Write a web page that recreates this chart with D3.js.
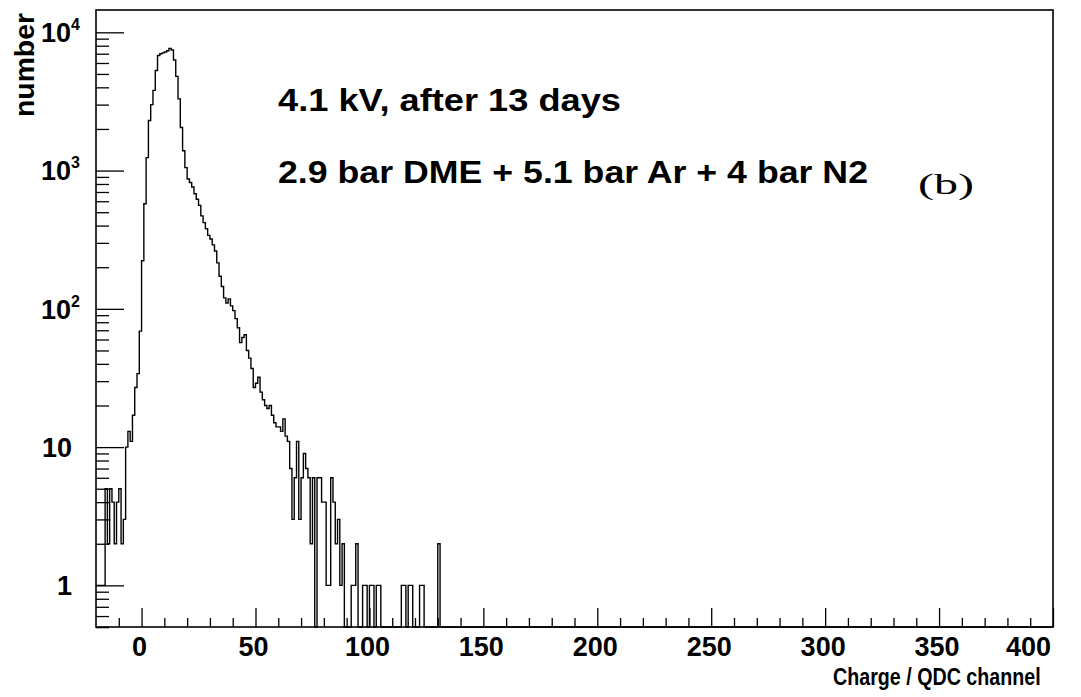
<!DOCTYPE html>
<html><head><meta charset="utf-8">
<script src="https://cdn.jsdelivr.net/npm/d3@7"></script>
<style>
body{margin:0;background:#fff}
text{font-family:"Liberation Sans",Arial,Helvetica,sans-serif;font-weight:bold;fill:#000}
</style>
</head><body><svg id="c" width="1081" height="697"></svg>
<script>
// ---- data ----
const binStart = -20;       // left edge of first bin (QDC channel)
const binWidth = 1;
const counts = [
  1,1,1,1,5,2,5,4,2,4,            // -20 .. -11
  5,2,3,10,13,11,17,27,34,69,      // -10 .. -1
  223,575,1240,2300,3000,3800,5300,6800,7000,7100,   // 0 .. 9
  7200,7350,7650,7450,6300,4800,3300,2050,1390,1050, // 10 .. 19
  870,820,760,680,620,560,470,420,380,340,           // 20 .. 29
  320,290,262,215,172,145,120,110,118,105,           // 30 .. 39
  97,85,73,57,62,65,50,44,37,27,                     // 40 .. 49
  29,32,25,22,20,19,20,17,15,14,                     // 50 .. 59
  14,13,16,12,11,7,3,6,11,3,                         // 60 .. 69
  6,9,7,6,2,6,0,6,6,4,                               // 70 .. 79
  4,1,1,6,4,2,3,1,2,0,                               // 80 .. 89
  0,0,1,1,2,0,0,1,1,0,                               // 90 .. 99
  1,1,0,1,1,0,0,0,0,0,                               // 100 .. 109
  0,0,0,0,1,1,0,1,1,0,                               // 110 .. 119
  0,0,1,1,0,0,0,0,0,0,                               // 120 .. 129
  2,0,0,0,0                                          // 130 .. 134
];
const xDomain = [-20, 400];
const yDomain = [0.5, 14500];
const xMajorTicks = [0, 50, 100, 150, 200, 250, 300, 350, 400];
const xMajorLabels = ["0","50","100","150","200","250","300","350","400"];
const yMajorTicks = [1, 10, 100, 1000, 10000];
const yMajorLabels = [["1",""],["10",""],["10","2"],["10","3"],["10","4"]];
const yTitle = "number";
const xTitle = "Charge / QDC channel";
const line1 = "4.1 kV, after 13 days";
const line2 = "2.9 bar DME + 5.1 bar Ar + 4 bar N2";
const panelTag = "(b)";

// ---- layout ----
const L = 96, R = 1053, T = 10, B = 627;
const svg = d3.select("#c");
const x = d3.scaleLinear().domain(xDomain).range([L, R]);
const y = d3.scaleLog().domain(yDomain).range([B, T]).clamp(true);

// histogram as step line
const pts = counts.map((c, i) => [binStart + i * binWidth, c]);
pts.push([xDomain[1], 0]);
const lineGen = d3.line()
  .x(d => x(d[0]))
  .y(d => y(Math.max(d[1], yDomain[0])))
  .curve(d3.curveStepAfter);
svg.append("path").attr("d", lineGen(pts))
  .attr("fill", "none").attr("stroke", "#000").attr("stroke-width", 1.4);

// minor tick values
const yMinor = [];
for (let k = -1; k <= 4; k++) for (let m = 2; m <= 9; m++) {
  const v = m * Math.pow(10, k);
  if (v >= yDomain[0] && v <= yDomain[1]) yMinor.push(v);
}
yMinor.push(0.5);
const xMinor = d3.range(-10, 401, 10).filter(v => v % 50 !== 0);

// y axes (ticks inside, pointing right)
svg.append("g").attr("transform", `translate(${L},0)`)
  .call(d3.axisLeft(y).tickValues(yMinor).tickSizeInner(-13).tickSizeOuter(0).tickFormat(""));
svg.append("g").attr("transform", `translate(${L},0)`)
  .call(d3.axisLeft(y).tickValues(yMajorTicks).tickSizeInner(-28).tickSizeOuter(0).tickFormat(""));
// x axes (ticks inside, pointing up)
svg.append("g").attr("transform", `translate(0,${B})`)
  .call(d3.axisBottom(x).tickValues(xMinor).tickSizeInner(-9).tickSizeOuter(0).tickFormat(""));
svg.append("g").attr("transform", `translate(0,${B})`)
  .call(d3.axisBottom(x).tickValues(xMajorTicks).tickSizeInner(-19).tickSizeOuter(0).tickFormat(""));
svg.selectAll(".domain").remove();
svg.selectAll(".tick line").attr("stroke", "#000").attr("stroke-width", 1.3);

// frame
svg.append("rect").attr("x", L).attr("y", T).attr("width", R - L).attr("height", B - T)
  .attr("fill", "none").attr("stroke", "#000").attr("stroke-width", 1.6);

// y labels
yMajorTicks.forEach((v, i) => {
  const [base, sup] = yMajorLabels[i];
  const t = svg.append("text").attr("text-anchor", "end")
    .attr("x", sup ? 80 : 72).attr("y", y(v)).attr("dy", "0.36em")
    .style("font-size", "27px");
  t.append("tspan").text(base);
  if (sup) t.append("tspan").attr("dy", "-12").style("font-size", "16px").text(sup);
});

// x labels
xMajorTicks.forEach((v, i) => {
  const last = i === xMajorTicks.length - 1;
  svg.append("text").attr("text-anchor", last ? "end" : "middle")
    .attr("x", last ? 1051 : x(v) - 2).attr("y", 656)
    .style("font-size", "27px").text(xMajorLabels[i]);
});

// titles
svg.append("text").attr("transform", "translate(34,117) rotate(-90)")
  .attr("textLength", 104).attr("lengthAdjust", "spacingAndGlyphs")
  .style("font-size", "28px").text(yTitle);
svg.append("text").attr("transform", "translate(833,685) scale(0.82,1)")
  .style("font-size", "24px").text(xTitle);

// annotations
svg.append("text").attr("x", 278).attr("y", 111)
  .attr("textLength", 343).attr("lengthAdjust", "spacingAndGlyphs")
  .style("font-size", "32px").text(line1);
svg.append("text").attr("x", 278).attr("y", 183)
  .attr("textLength", 590).attr("lengthAdjust", "spacingAndGlyphs")
  .style("font-size", "32px").text(line2);
svg.append("text").attr("x", 918).attr("y", 194)
  .attr("textLength", 56).attr("lengthAdjust", "spacingAndGlyphs")
  .style("font-family", "'Liberation Serif','Times New Roman',serif")
  .style("font-weight", "normal").style("font-size", "30px").text(panelTag);
</script>
</body></html>
